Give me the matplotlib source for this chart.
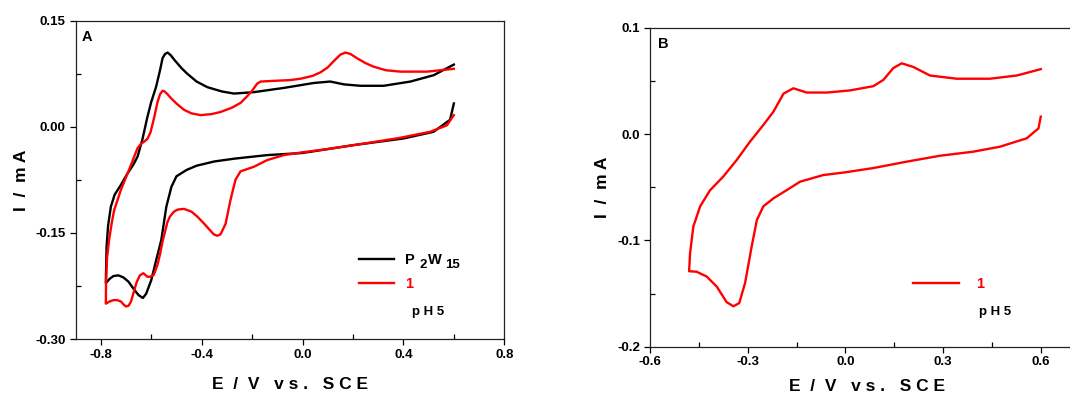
import matplotlib
matplotlib.use("Agg")
import matplotlib.pyplot as plt
from matplotlib.ticker import MultipleLocator, FormatStrFormatter

plt.rcParams['font.family'] = ['Liberation Sans', 'DejaVu Sans']
plt.rcParams['font.weight'] = 'bold'

# Panel A: P2W15 (black), compound 1 (red), pH 5
a_p2w15_E = [0.60, 0.585, 0.52, 0.40, 0.20, 0.0, -0.14, -0.27, -0.35, -0.42, -0.46, -0.50, -0.52,
             -0.54, -0.56, -0.58, -0.60, -0.62, -0.633, -0.65, -0.67, -0.69, -0.71, -0.73, -0.75,
             -0.765, -0.78,
             -0.777, -0.771, -0.76, -0.745, -0.72, -0.694, -0.67, -0.654, -0.635, -0.615, -0.60,
             -0.581, -0.565, -0.555, -0.545, -0.535, -0.522, -0.509, -0.48, -0.457, -0.42, -0.377,
             -0.32, -0.272, -0.193, -0.074, 0.045, 0.11, 0.164, 0.23, 0.322, 0.428, 0.52, 0.60]
a_p2w15_I = [0.033, 0.010, -0.007, -0.0165, -0.026, -0.037, -0.040, -0.045, -0.049, -0.055, -0.061,
             -0.070, -0.085, -0.113, -0.160, -0.188, -0.217, -0.236, -0.242, -0.238, -0.229, -0.219,
             -0.213, -0.210, -0.211, -0.215, -0.221,
             -0.17, -0.140, -0.113, -0.096, -0.082, -0.066, -0.053, -0.042, -0.018, 0.014, 0.035,
             0.056, 0.080, 0.097, 0.103, 0.105, 0.101, 0.095, 0.083, 0.075, 0.064, 0.056, 0.050,
             0.047, 0.049, 0.055, 0.062, 0.064, 0.060, 0.058, 0.058, 0.064, 0.073, 0.088]

a_c1_E = [0.60, 0.572, 0.506, 0.388, 0.256, 0.098, 0.0, -0.074, -0.14, -0.193, -0.246, -0.266,
          -0.286, -0.305, -0.325, -0.338, -0.352, -0.365, -0.39, -0.417, -0.44, -0.47, -0.495,
          -0.51, -0.526, -0.536, -0.545, -0.555, -0.565, -0.575, -0.59, -0.605, -0.615, -0.631,
          -0.645, -0.658, -0.668, -0.68, -0.69, -0.70, -0.71, -0.72, -0.735, -0.75, -0.765, -0.78,
          -0.779, -0.775, -0.767, -0.757, -0.747, -0.72, -0.688, -0.665, -0.654, -0.64, -0.628,
          -0.615, -0.603, -0.589, -0.575, -0.565, -0.555, -0.547, -0.535, -0.523, -0.50, -0.47,
          -0.44, -0.404, -0.36, -0.325, -0.28, -0.245, -0.22, -0.20, -0.18, -0.166, -0.113, -0.05,
          -0.008, 0.04, 0.071, 0.10, 0.124, 0.15, 0.17, 0.19, 0.216, 0.25, 0.282, 0.33, 0.388,
          0.494, 0.60]
a_c1_I = [0.0165, 0.002, -0.007, -0.0155, -0.023, -0.0315, -0.036, -0.040, -0.047, -0.0565,
          -0.063, -0.075, -0.104, -0.137, -0.152, -0.154, -0.152, -0.147, -0.137, -0.127, -0.120,
          -0.116, -0.117, -0.120, -0.127, -0.135, -0.148, -0.162, -0.180, -0.195, -0.2095, -0.212,
          -0.212, -0.207, -0.210, -0.220, -0.232, -0.247, -0.253, -0.254, -0.251, -0.247, -0.245,
          -0.245, -0.247, -0.250,
          -0.220, -0.185, -0.160, -0.137, -0.118, -0.089, -0.061, -0.040, -0.030, -0.024, -0.021,
          -0.017, -0.008, 0.012, 0.035, 0.046, 0.051, 0.050, 0.046, 0.041, 0.033, 0.024, 0.019,
          0.0165, 0.018, 0.021, 0.027, 0.034, 0.043, 0.051, 0.061, 0.064, 0.065, 0.066, 0.068,
          0.072, 0.077, 0.084, 0.093, 0.102, 0.105, 0.103, 0.097, 0.090, 0.085, 0.080, 0.078,
          0.078, 0.082]

# Panel B: compound 1 only
b_c1_E = [0.60, 0.593, 0.557, 0.475, 0.393, 0.291, 0.188, 0.086, 0.0, -0.068, -0.139, -0.18,
          -0.221, -0.252, -0.272, -0.288, -0.308, -0.326, -0.344, -0.365, -0.395, -0.426, -0.457,
          -0.48,
          -0.477, -0.467, -0.446, -0.416, -0.375, -0.334, -0.293, -0.252, -0.221, -0.19, -0.16,
          -0.119, -0.057, 0.014, 0.086, 0.117, 0.147, 0.173, 0.209, 0.26, 0.342, 0.444, 0.526, 0.60]
b_c1_I = [0.0163, 0.0053, -0.004, -0.0119, -0.0166, -0.0204, -0.026, -0.032, -0.036, -0.0386,
          -0.0448, -0.0527, -0.0605, -0.068, -0.081, -0.106, -0.140, -0.159, -0.162, -0.158,
          -0.1435, -0.134, -0.1295, -0.129,
          -0.112, -0.087, -0.068, -0.053, -0.040, -0.0245, -0.0072, 0.0085, 0.021, 0.038, 0.043,
          0.039, 0.039, 0.041, 0.045, 0.051, 0.062, 0.0665, 0.063, 0.055, 0.052, 0.052, 0.055, 0.061]

xlabel = "E  /  V   v s .   S C E"
ylabel = "I  /  m A"

fig = plt.figure(figsize=(10.70, 3.96), dpi=100)
axA = fig.add_axes([0.0706, 0.1439, 0.4007, 0.8038])
axB = fig.add_axes([0.6075, 0.1245, 0.3956, 0.8056])


def style(ax):
    for s in ax.spines.values():
        s.set_linewidth(0.9)
        s.set_color('#222222')
    ax.tick_params(which='major', direction='out', length=4, width=0.9, labelsize=9.5, pad=3)
    ax.tick_params(which='minor', direction='in', length=3.5, width=0.9)
    for lab in ax.get_xticklabels() + ax.get_yticklabels():
        lab.set_fontweight('bold')
    ax.set_xlabel(xlabel, fontsize=12.5, fontweight='bold', labelpad=11.5)
    ax.set_ylabel(ylabel, fontsize=12.5, fontweight='bold', labelpad=5)


# ---- Panel A
axA.plot(a_p2w15_E, a_p2w15_I, color='black', lw=1.7, label='P')
axA.plot(a_c1_E, a_c1_I, color='red', lw=1.7, label='1')
axA.set_xlim(-0.9, 0.8)
axA.set_ylim(-0.30, 0.15)
axA.xaxis.set_major_locator(MultipleLocator(0.4))
axA.xaxis.set_minor_locator(MultipleLocator(0.2))
axA.yaxis.set_major_locator(MultipleLocator(0.15))
axA.yaxis.set_minor_locator(MultipleLocator(0.075))
axA.xaxis.set_major_formatter(FormatStrFormatter('%.1f'))
axA.yaxis.set_major_formatter(FormatStrFormatter('%.2f'))
style(axA)
legA = axA.legend(loc='upper left', bbox_to_anchor=(0.63, 0.312), frameon=False,
                  handlelength=2.4, handletextpad=0.8, labelspacing=0.7,
                  labelcolor=['black', 'red'], prop={'weight': 'bold', 'size': 10.5})
# rest of the P2W15 label, with large lowered subscripts as in the original
tP = legA.get_texts()[0]
for s, dx, dy, fs in [("2", 2.9, -3.0, 9.5), ("W", 9.4, 0.0, 10.5), ("15", 21.6, -3.0, 9.5)]:
    axA.annotate(s, xy=(1, 0), xycoords=tP, xytext=(dx, dy), textcoords='offset points',
                 ha='left', va='bottom', fontsize=fs, fontweight='bold', zorder=6)
axA.text(0.785, 0.075, "p H 5", transform=axA.transAxes, fontsize=9.5, fontweight='bold')
axA.text(0.015, 0.935, "A", transform=axA.transAxes, fontsize=10.5, fontweight='bold')

# ---- Panel B
axB.plot(b_c1_E, b_c1_I, color='red', lw=1.7, label='1')
axB.set_xlim(-0.6, 0.7)
axB.set_ylim(-0.2, 0.1)
axB.xaxis.set_major_locator(MultipleLocator(0.3))
axB.xaxis.set_minor_locator(MultipleLocator(0.15))
axB.yaxis.set_major_locator(MultipleLocator(0.1))
axB.yaxis.set_minor_locator(MultipleLocator(0.05))
axB.xaxis.set_major_formatter(FormatStrFormatter('%.1f'))
axB.yaxis.set_major_formatter(FormatStrFormatter('%.1f'))
style(axB)
axB.xaxis.set_label_coords(0.513, -0.10)
axB.legend(loc='upper left', bbox_to_anchor=(0.59, 0.26), frameon=False,
           handlelength=3.15, handletextpad=1.2, labelcolor=['red'],
           prop={'weight': 'bold', 'size': 10.5})
axB.text(0.778, 0.10, "p H 5", transform=axB.transAxes, fontsize=9.5, fontweight='bold')
axB.text(0.02, 0.935, "B", transform=axB.transAxes, fontsize=10.5, fontweight='bold')

fig.savefig("out.png", dpi=100)
